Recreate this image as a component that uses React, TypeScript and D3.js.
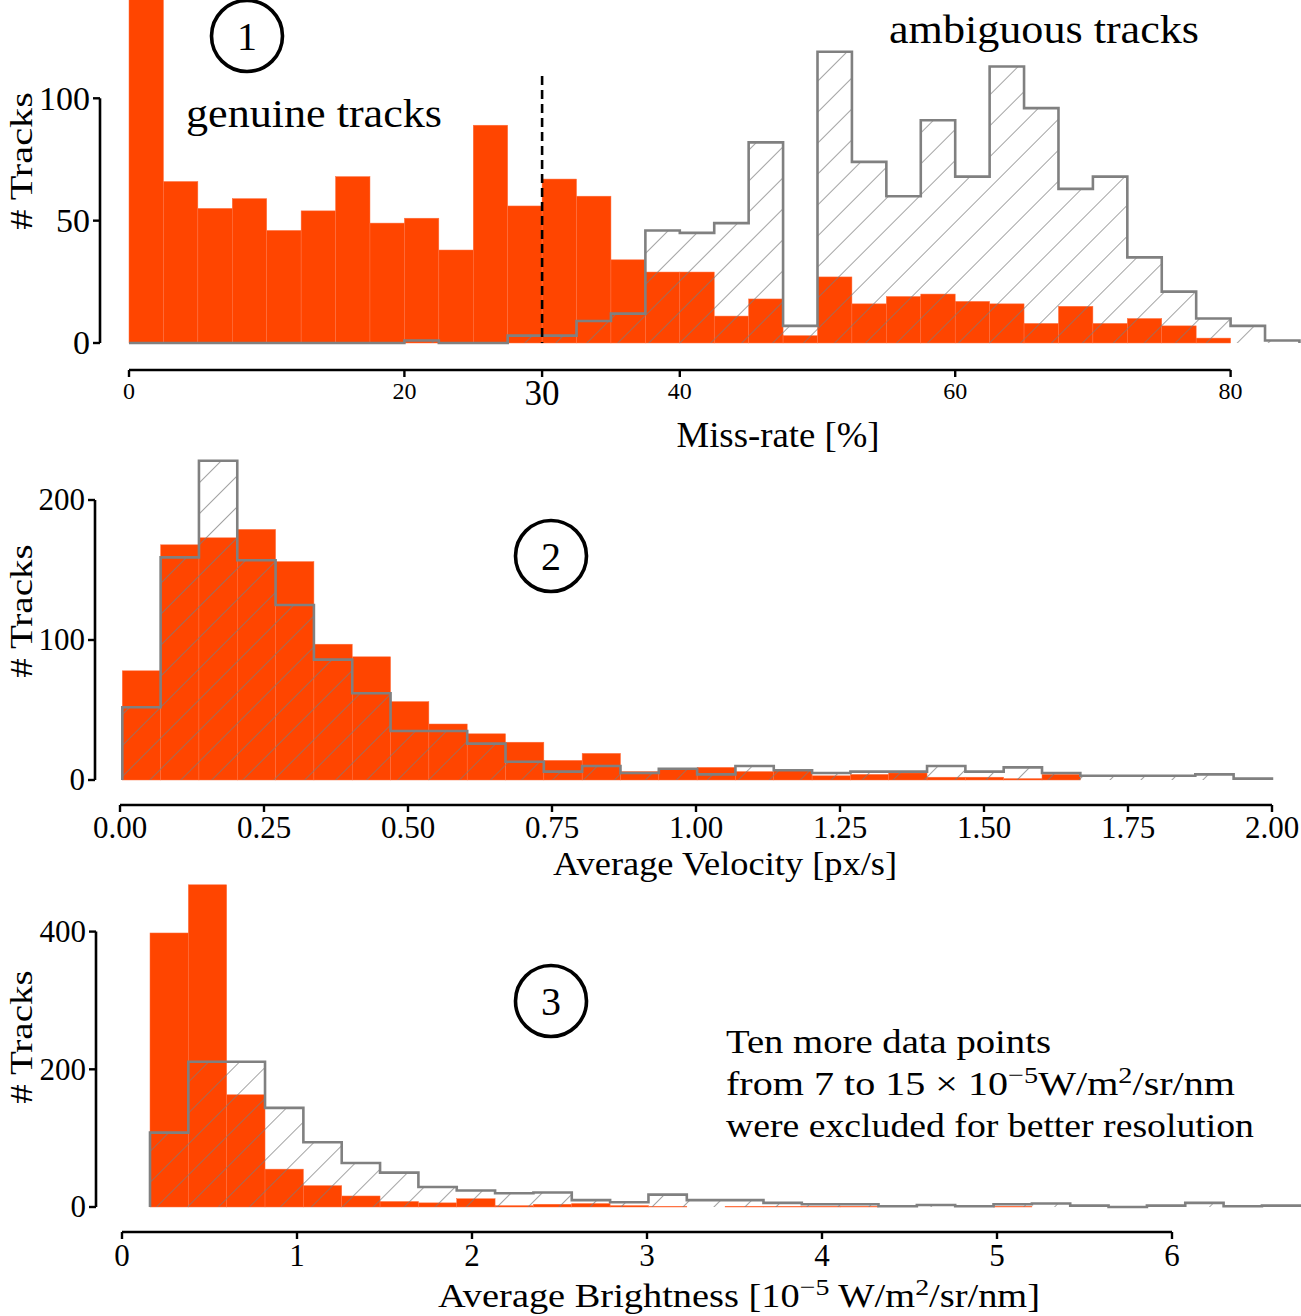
import React from "react";
import * as d3 from "d3";

const W = 1301;
const H = 1316;
const FONT = "'Liberation Serif', 'Times New Roman', serif";
const RED = "#ff4500";
const GREY = "#808080";

// panel 1 : miss-rate [%], bins of 2.5
const missStart = 0;
const missWidth = 2.5;
const missGenuine = [160, 66, 55, 59, 46, 54, 68, 49, 51, 38, 89, 56, 67, 60, 34, 29, 29, 11, 18, 3, 27, 16, 19, 20, 17, 16, 8, 15, 8, 10, 7, 2, 0, 0];
const missAmbiguous = [0, 0, 0, 0, 0, 0, 0, 0, 1, 0, 0, 3, 3, 9, 12, 46, 45, 49, 82, 7, 119, 74, 60, 91, 68, 113, 96, 63, 68, 35, 21, 10, 7, 1];
const missXTicks = [0, 20, 30, 40, 60, 80];
const missYTicks = [0, 50, 100];
const missCut = 30;

// panel 2 : average velocity [px/s]
const velStart = 0.004;
const velWidth = 0.06653;
const velGenuine = [78, 168, 173, 179, 156, 97, 88, 56, 40, 33, 27, 14, 19, 6, 8, 9, 6, 7, 3, 4, 5, 2, 2, 1, 4, 0, 0, 0, 0, 0];
const velAmbiguous = [52, 159, 228, 157, 125, 86, 62, 35, 35, 26, 13, 6, 10, 5, 8, 4, 10, 7, 5, 6, 6, 10, 6, 9, 5, 3, 3, 3, 4, 1];
const velXTicks = [0, 0.25, 0.5, 0.75, 1, 1.25, 1.5, 1.75, 2];
const velYTicks = [0, 100, 200];

// panel 3 : average brightness [1e-5 W/m2/sr/nm]
const briStart = 0.16;
const briWidth = 0.2191;
const briGenuine = [398, 468, 163, 55, 31, 16, 8, 6, 12, 2, 4, 5, 2, 1, 0, 1, 1, 1, 1, 0, 0, 0, 1, 0, 0, 0, 0, 0, 0, 0];
const briAmbiguous = [108, 211, 211, 144, 94, 64, 50, 29, 24, 20, 21, 10, 7, 18, 10, 10, 6, 4, 4, 1, 3, 1, 4, 5, 2, 0, 2, 6, 1, 2];
const briXTicks = [0, 1, 2, 3, 4, 5, 6];
const briYTicks = [0, 200, 400];

type Scale = d3.ScaleLinear<number, number>;

const Hist = ({ x, y, start, width, genuine, ambiguous }: {
  x: Scale; y: Scale; start: number; width: number; genuine: number[]; ambiguous: number[];
}) => {
  const n = ambiguous.length;
  const edges = d3.range(n + 1).map(i => start + i * width);
  const pts: [number, number][] = ambiguous.map((v, i) => [edges[i], v] as [number, number]);
  pts.push([edges[n], ambiguous[n - 1]]);
  const outline: [number, number][] = [[edges[0], 0], ...pts, [edges[n], 0]];

  const stepLine = d3.line<[number, number]>()
    .x(d => x(d[0]))
    .y(d => y(d[1]))
    .curve(d3.curveStepAfter);
  const stepArea = d3.area<[number, number]>()
    .x(d => x(d[0]))
    .y0(y(0))
    .y1(d => y(d[1]))
    .curve(d3.curveStepAfter);

  return (
    <g>
      {genuine.map((v, i) => v > 0 && (
        <rect key={i}
          x={x(edges[i])}
          width={x(edges[i + 1]) - x(edges[i])}
          y={y(v)}
          height={y(0) - y(v)}
          fill={RED}
          stroke="#ff7040"
          strokeWidth={0.5}
        />
      ))}
      <path d={stepArea(pts) || ""} fill="url(#hatch)" stroke="none" />
      <path d={stepLine(outline) || ""} fill="none" stroke={GREY} strokeWidth={2.6} />
    </g>
  );
};

const LeftAxis = ({ y, ticks, sx, size }: { y: Scale; ticks: number[]; sx: number; size: number }) => (
  <g fontFamily={FONT} fontSize={size}>
    <line x1={sx} x2={sx} y1={y(ticks[0])} y2={y(ticks[ticks.length - 1])} stroke="#000" strokeWidth={2.6} />
    {ticks.map(t => (
      <g key={t}>
        <line x1={sx - 7} x2={sx} y1={y(t)} y2={y(t)} stroke="#000" strokeWidth={2.4} />
        <text x={sx - 10} y={y(t) + size * 0.33} textAnchor="end">{t}</text>
      </g>
    ))}
  </g>
);

const BottomAxis = ({ x, ticks, sy, size, fmt, gap, big }: {
  x: Scale; ticks: number[]; sy: number; size: number; fmt: (v: number) => string; gap: number; big?: number;
}) => (
  <g fontFamily={FONT}>
    <line x1={x(ticks[0])} x2={x(ticks[ticks.length - 1])} y1={sy} y2={sy} stroke="#000" strokeWidth={2.6} />
    {ticks.map(t => (
      <g key={t}>
        <line x1={x(t)} x2={x(t)} y1={sy} y2={sy + 7} stroke="#000" strokeWidth={2.4} />
        <text x={x(t)} y={t === big ? sy + 35 : sy + gap} fontSize={t === big ? 35 : size} textAnchor="middle">{fmt(t)}</text>
      </g>
    ))}
  </g>
);

const YLabel = ({ cx, cy, size }: { cx: number; cy: number; size: number }) => (
  <text transform={`translate(${cx},${cy}) rotate(-90)`} textAnchor="middle" fontFamily={FONT} fontSize={size}
    textLength={size * 4.3} lengthAdjust="spacingAndGlyphs"># Tracks</text>
);

const Badge = ({ cx, cy, label }: { cx: number; cy: number; label: string }) => (
  <g>
    <circle cx={cx} cy={cy} r={35.5} fill="none" stroke="#000" strokeWidth={3.6} />
    <text x={cx} y={cy + 14} textAnchor="middle" fontFamily={FONT} fontSize={40}>{label}</text>
  </g>
);

export default function App() {
  // panel 1 scales
  const x1 = d3.scaleLinear().domain([0, 85]).range([129, 129 + 85 * 13.77]);
  const y1 = d3.scaleLinear().domain([0, 100]).range([343, 98.3]);
  // panel 2 scales
  const x2 = d3.scaleLinear().domain([0, 2]).range([120, 1272]);
  const y2 = d3.scaleLinear().domain([0, 200]).range([780, 500]);
  // panel 3 scales
  const x3 = d3.scaleLinear().domain([0, 6]).range([122, 1172]);
  const y3 = d3.scaleLinear().domain([0, 400]).range([1207, 931.6]);

  const sup = { fontSize: 24, baselineShift: "12px" } as React.CSSProperties;

  return (
    <svg width={W} height={H} style={{ position: "absolute", left: 0, top: 0, background: "#fff" }}
      xmlns="http://www.w3.org/2000/svg">
      <defs>
        <pattern id="hatch" patternUnits="userSpaceOnUse" width={21.9} height={20} patternTransform="rotate(45)">
          <line x1={0} x2={0} y1={0} y2={20} stroke="#7c7c7c" strokeWidth={1.4} />
        </pattern>
      </defs>
      <rect width={W} height={H} fill="#fff" />

      {/* panel 1 */}
      <Hist x={x1} y={y1} start={missStart} width={missWidth} genuine={missGenuine} ambiguous={missAmbiguous} />
      <line x1={x1(missCut)} x2={x1(missCut)} y1={76} y2={y1(0)} stroke="#000" strokeWidth={2.6} strokeDasharray="9,5" />
      <LeftAxis y={y1} ticks={missYTicks} sx={100} size={34} />
      <BottomAxis x={x1} ticks={missXTicks} sy={370} size={24} gap={29} fmt={d => String(d)} big={30} />
      <YLabel cx={32} cy={161} size={32} />
      <text x={778} y={447} textAnchor="middle" fontFamily={FONT} fontSize={35} textLength={203} lengthAdjust="spacingAndGlyphs">Miss-rate [%]</text>
      <Badge cx={247} cy={36} label="1" />
      <text x={186} y={127} fontFamily={FONT} fontSize={40} textLength={256} lengthAdjust="spacingAndGlyphs">genuine tracks</text>
      <text x={889} y={43} fontFamily={FONT} fontSize={40} textLength={310} lengthAdjust="spacingAndGlyphs">ambiguous tracks</text>

      {/* panel 2 */}
      <Hist x={x2} y={y2} start={velStart} width={velWidth} genuine={velGenuine} ambiguous={velAmbiguous} />
      <LeftAxis y={y2} ticks={velYTicks} sx={95} size={31} />
      <BottomAxis x={x2} ticks={velXTicks} sy={805} size={31} gap={33} fmt={d3.format(".2f")} />
      <YLabel cx={32} cy={611} size={31} />
      <text x={725} y={875} textAnchor="middle" fontFamily={FONT} fontSize={33} textLength={344} lengthAdjust="spacingAndGlyphs">Average Velocity [px/s]</text>
      <Badge cx={551} cy={556} label="2" />

      {/* panel 3 */}
      <Hist x={x3} y={y3} start={briStart} width={briWidth} genuine={briGenuine} ambiguous={briAmbiguous} />
      <LeftAxis y={y3} ticks={briYTicks} sx={96} size={31} />
      <BottomAxis x={x3} ticks={briXTicks} sy={1232} size={31} gap={34} fmt={d => String(d)} />
      <YLabel cx={32} cy={1037} size={31} />
      <text x={739} y={1307} textAnchor="middle" fontFamily={FONT} fontSize={33} textLength={602} lengthAdjust="spacingAndGlyphs">
        Average Brightness [10<tspan style={sup}>−5</tspan> W/m<tspan style={sup}>2</tspan>/sr/nm]
      </text>
      <Badge cx={551} cy={1001} label="3" />
      <g fontFamily={FONT} fontSize={34}>
        <text x={726} y={1053} textLength={325} lengthAdjust="spacingAndGlyphs">Ten more data points</text>
        <text x={726} y={1095} textLength={509} lengthAdjust="spacingAndGlyphs">
          from 7 to 15 × 10<tspan style={sup}>−5</tspan>W/m<tspan style={sup}>2</tspan>/sr/nm
        </text>
        <text x={726} y={1137} textLength={528} lengthAdjust="spacingAndGlyphs">were excluded for better resolution</text>
      </g>
    </svg>
  );
}
